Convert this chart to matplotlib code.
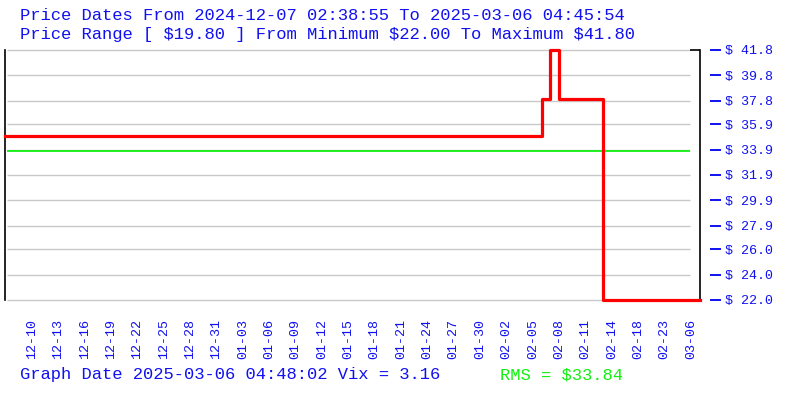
import matplotlib
matplotlib.use("Agg")
import matplotlib.pyplot as plt

plt.rcParams["font.family"] = ["Liberation Mono", "DejaVu Sans Mono"]

# x axis is sample slots, one tick label per slot (dates are irregular)
tick_labels = ["12-10", "12-13", "12-16", "12-19", "12-22", "12-25", "12-28", "12-31",
               "01-03", "01-06", "01-09", "01-12", "01-15", "01-18", "01-21", "01-24",
               "01-27", "01-30", "02-02", "02-05", "02-08", "02-11", "02-14", "02-18",
               "02-23", "03-06"]
step_x = [-1.02, 19.35, 19.65, 19.99, 21.66, 25.34]
step_y = [35.0, 37.95, 41.8, 37.95, 22.0, 22.0]
price_min, price_max = 22.00, 41.80
rms = 33.84
y_ticks = [22.0, 24.0, 26.0, 27.9, 29.9, 31.9, 33.9, 35.9, 37.8, 39.8, 41.8]

blue = "#1010f0"
green = "#10f010"

fig = plt.figure(figsize=(8, 4), dpi=100)
ax = fig.add_axes([5 / 800, 100 / 400, 695 / 800, 250 / 400])

ax.step(step_x, step_y, where="post", color="#ff0000", lw=2.3, zorder=3, clip_on=False)
ax.hlines(y_ticks, -0.95, 24.96, color="#c8c8c8", lw=1, zorder=1, clip_on=False)
ax.hlines(rms, -0.95, 24.96, color=green, lw=1.3, zorder=2)
ax.axvline(25.34, color="black", lw=1.2, clip_on=False)
ax.hlines(price_max, 24.96, 25.34, color="black", lw=1.2, clip_on=False)

ax.set_xlim(-1.02, 25.34)
ax.set_ylim(price_min, price_max)
ax.set_xticks(range(len(tick_labels)))
ax.set_xticklabels(tick_labels, rotation=90)
ax.tick_params(axis="x", length=0, pad=13.5, labelsize=9.6, labelcolor=blue)

ax.yaxis.tick_right()
ax.set_yticks(y_ticks)
ax.set_yticklabels([f"$ {v:.1f}" for v in y_ticks])
ax.tick_params(axis="y", direction="out", length=7.8, width=1.4, color=blue, pad=3,
               labelsize=9.6, labelcolor=blue)
for lab in ax.get_yticklabels():
    lab.set_fontweight("bold")
ax.spines["right"].set_position(("outward", 7.2))
ax.spines["right"].set_visible(False)
ax.spines["top"].set_visible(False)
ax.spines["bottom"].set_visible(False)
ax.spines["left"].set_color("black")
ax.spines["left"].set_linewidth(1.2)

fig.text(20 / 800, 1 - 15 / 400, "Price Dates From 2024-12-07 02:38:55 To 2025-03-06 04:45:54",
         fontsize=12.3, color=blue, va="center")
fig.text(20 / 800, 1 - 35 / 400,
         f"Price Range [ ${price_max - price_min:.2f} ] From Minimum ${price_min:.2f} To Maximum ${price_max:.2f}",
         fontsize=12.3, color=blue, va="center")
fig.text(20 / 800, 1 - 375 / 400, "Graph Date 2025-03-06 04:48:02 Vix = 3.16",
         fontsize=12.3, color=blue, va="center")
fig.text(500 / 800, 1 - 375 / 400, f"RMS = ${rms:.2f}",
         fontsize=12.3, color=green, va="center")

fig.savefig("out.png", dpi=100)
